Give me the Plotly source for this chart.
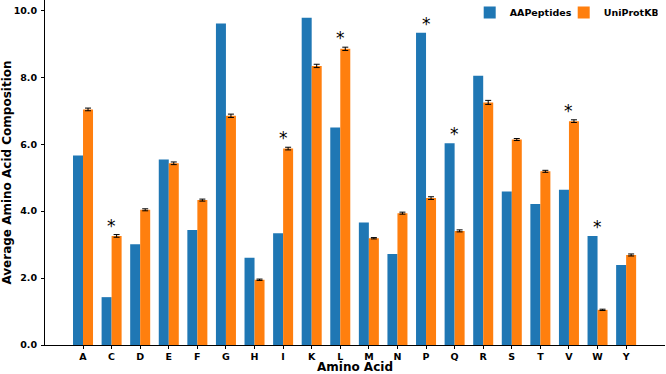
import plotly.graph_objects as go

amino_acids = ["A", "C", "D", "E", "F", "G", "H", "I", "K", "L",
               "M", "N", "P", "Q", "R", "S", "T", "V", "W", "Y"]
aapeptides = [5.66, 1.43, 3.01, 5.54, 3.44, 9.61, 2.61, 3.34, 9.78, 6.50,
              3.66, 2.72, 9.33, 6.03, 8.05, 4.59, 4.21, 4.64, 3.26, 2.39]
uniprot = [7.04, 3.26, 4.04, 5.43, 4.33, 6.85, 1.95, 5.87, 8.34, 8.85,
           3.19, 3.94, 4.39, 3.41, 7.25, 6.14, 5.19, 6.69, 1.05, 2.69]
uniprot_err = [0.04, 0.04, 0.03, 0.04, 0.03, 0.05, 0.02, 0.04, 0.05, 0.05,
               0.02, 0.03, 0.04, 0.03, 0.06, 0.03, 0.03, 0.04, 0.02, 0.03]
significant = ["C", "I", "L", "P", "Q", "V", "W"]

BLUE = "#1f77b4"
ORANGE = "#ff7f0e"
FONT = "DejaVu Sans"

fig = go.Figure()
fig.add_trace(go.Bar(x=amino_acids, y=aapeptides, name="AAPeptides",
                     marker=dict(color=BLUE, line=dict(width=0))))
fig.add_trace(go.Bar(x=amino_acids, y=uniprot, name="UniProtKB",
                     marker=dict(color=ORANGE, line=dict(width=0)),
                     error_y=dict(type="data", array=uniprot_err, visible=True,
                                  color="black", thickness=1, width=3)))

for aa in significant:
    i = amino_acids.index(aa)
    top = max(aapeptides[i], uniprot[i] + uniprot_err[i])
    fig.add_annotation(x=aa, y=top, yshift=-3, text="*", showarrow=False,
                       yanchor="bottom", xanchor="center",
                       font=dict(family=FONT, size=17, color="black"))

fig.update_layout(
    width=666, height=374,
    margin=dict(l=45, r=1, t=0, b=29, autoexpand=False),
    paper_bgcolor="white", plot_bgcolor="white",
    barmode="group", bargap=0.3, bargroupgap=0,
    font=dict(family=FONT, color="black"),
    legend=dict(orientation="h", x=0.685, xanchor="left", y=1.006, yanchor="top",
                font=dict(family=FONT, size=9.5, color="black", weight="bold"),
                bgcolor="rgba(255,255,255,0)", entrywidth=49, entrywidthmode="pixels"),
    showlegend=True,
)
fig.update_xaxes(
    range=[-1.33, 20.36], showline=True, linecolor="black", linewidth=1,
    ticks="outside", ticklen=3, tickcolor="black", showgrid=False, zeroline=False,
    automargin=False,
    tickfont=dict(family=FONT, size=9.5, color="black", weight="bold"),
    title=dict(text="Amino Acid", standoff=4,
               font=dict(family=FONT, size=12, color="black", weight="bold")),
)
fig.update_yaxes(
    range=[0, 10.31], showline=True, linecolor="black", linewidth=1,
    ticks="outside", ticklen=3, tickcolor="black", showgrid=False, zeroline=False,
    automargin=False, ticklabelstandoff=2,
    tickvals=[0, 2, 4, 6, 8, 10], tickformat=".1f",
    tickfont=dict(family=FONT, size=9.5, color="black", weight="bold"),
    title=dict(text="Average Amino Acid Composition", standoff=4,
               font=dict(family=FONT, size=12, color="black", weight="bold")),
)

fig.write_html("out.html", config={"displayModeBar": False},
               post_script="document.body.style.margin='0';")
